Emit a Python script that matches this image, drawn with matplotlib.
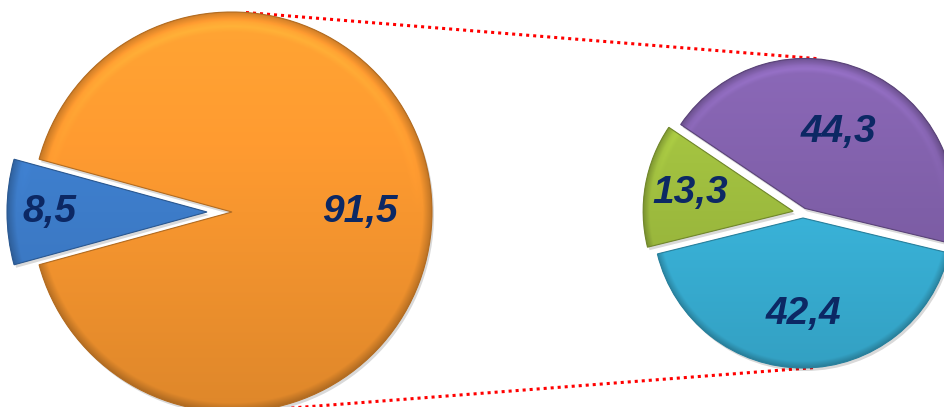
import numpy as np
import matplotlib
matplotlib.use("Agg")
import matplotlib.pyplot as plt
from matplotlib.colors import to_rgb
from matplotlib.patches import Wedge

# main pie: blue part is split out into the small pie
main_labels = ["8,5", "91,5"]
main_values = [8.5, 91.5]
main_colors = ["#3d7cc9", "#f7962f"]

# small pie: breakdown
sub_labels = ["44,3", "13,3", "42,4"]
sub_values = [44.3, 13.3, 42.4]
sub_colors = ["#7f5fa8", "#9dbb3e", "#39b2d8"]

label_color = "#0c2864"

W, H = 945, 407
fig = plt.figure(figsize=(W / 100, H / 100), dpi=100)
ax = fig.add_axes([0, 0, 1, 1])


def shade(ax, w, color):
    # fake 3d look: vertical gradient plus soft darker rim, clipped to the wedge
    cx, cy = w.center
    r = w.r
    n = 600
    xs = np.linspace(-1, 1, n)
    X, Y = np.meshgrid(xs, xs)
    d = np.sqrt(X ** 2 + Y ** 2)
    f = 1.0 + 0.10 * Y
    rim = np.clip((d - 0.955) / 0.045, 0, 1)
    f = f * (1 - 0.22 * rim)
    glow = np.clip(1 - np.abs(d - 0.93) / 0.03, 0, 1) * np.clip(Y, 0, 1)
    f = f + 0.10 * glow
    rgb = np.clip(np.array(to_rgb(color))[None, None, :] * f[:, :, None], 0, 1)
    im = ax.imshow(rgb, extent=(cx - r, cx + r, cy - r, cy + r), origin="lower",
                   interpolation="bilinear", zorder=3)
    im.set_clip_path(w)


def draw_pie(ax, values, colors, labels, center, radius, start, explode, dist):
    wedges, _ = ax.pie(values, colors=colors, startangle=start, counterclock=True,
                       center=center, radius=radius, explode=explode,
                       wedgeprops=dict(linewidth=0, zorder=2))
    for w, c, lab, k in zip(wedges, colors, labels, dist):
        # soft shadow
        sh = Wedge((w.center[0] + 2, w.center[1] - 3), w.r, w.theta1, w.theta2,
                   color="#000000", alpha=0.15, lw=0, zorder=1)
        ax.add_patch(sh)
        shade(ax, w, c)
        edge = Wedge(w.center, w.r, w.theta1, w.theta2, fill=False,
                     edgecolor=np.array(to_rgb(c)) * 0.72, lw=0.8, zorder=4)
        ax.add_patch(edge)
        mid = np.deg2rad((w.theta1 + w.theta2) / 2)
        tx = w.center[0] + k * w.r * np.cos(mid)
        ty = w.center[1] + k * w.r * np.sin(mid)
        ax.text(tx, ty, lab, ha="center", va="center", fontsize=28,
                fontweight="bold", fontstyle="italic", color=label_color,
                family=["Liberation Sans", "DejaVu Sans"], zorder=5)
    return wedges


big_c, big_r = (232, 195), 200
small_c, small_r = (803, 194), 150

draw_pie(ax, main_values, main_colors, main_labels, big_c, big_r, 164.7,
         [25, 0], [0.79, 0.64])
draw_pie(ax, sub_values, sub_colors, sub_labels, small_c, small_r, -13.5,
         [5, 10, 5], [0.56, 0.70, 0.64])

# dotted connector lines
for a1, a2 in [(86, 85), (-86, -85)]:
    x1 = big_c[0] + big_r * np.cos(np.deg2rad(a1))
    y1 = big_c[1] + big_r * np.sin(np.deg2rad(a1))
    x2 = small_c[0] + (small_r + 5) * np.cos(np.deg2rad(a2))
    y2 = small_c[1] + (small_r + 5) * np.sin(np.deg2rad(a2))
    ax.plot([x1, x2], [y1, y2], color="#ff0000", lw=2.2, linestyle=(0, (1, 1.3)),
            zorder=0)

ax.set_xlim(0, W)
ax.set_ylim(0, H)
ax.set_aspect("equal")
ax.axis("off")

fig.savefig("out.png", dpi=100)
